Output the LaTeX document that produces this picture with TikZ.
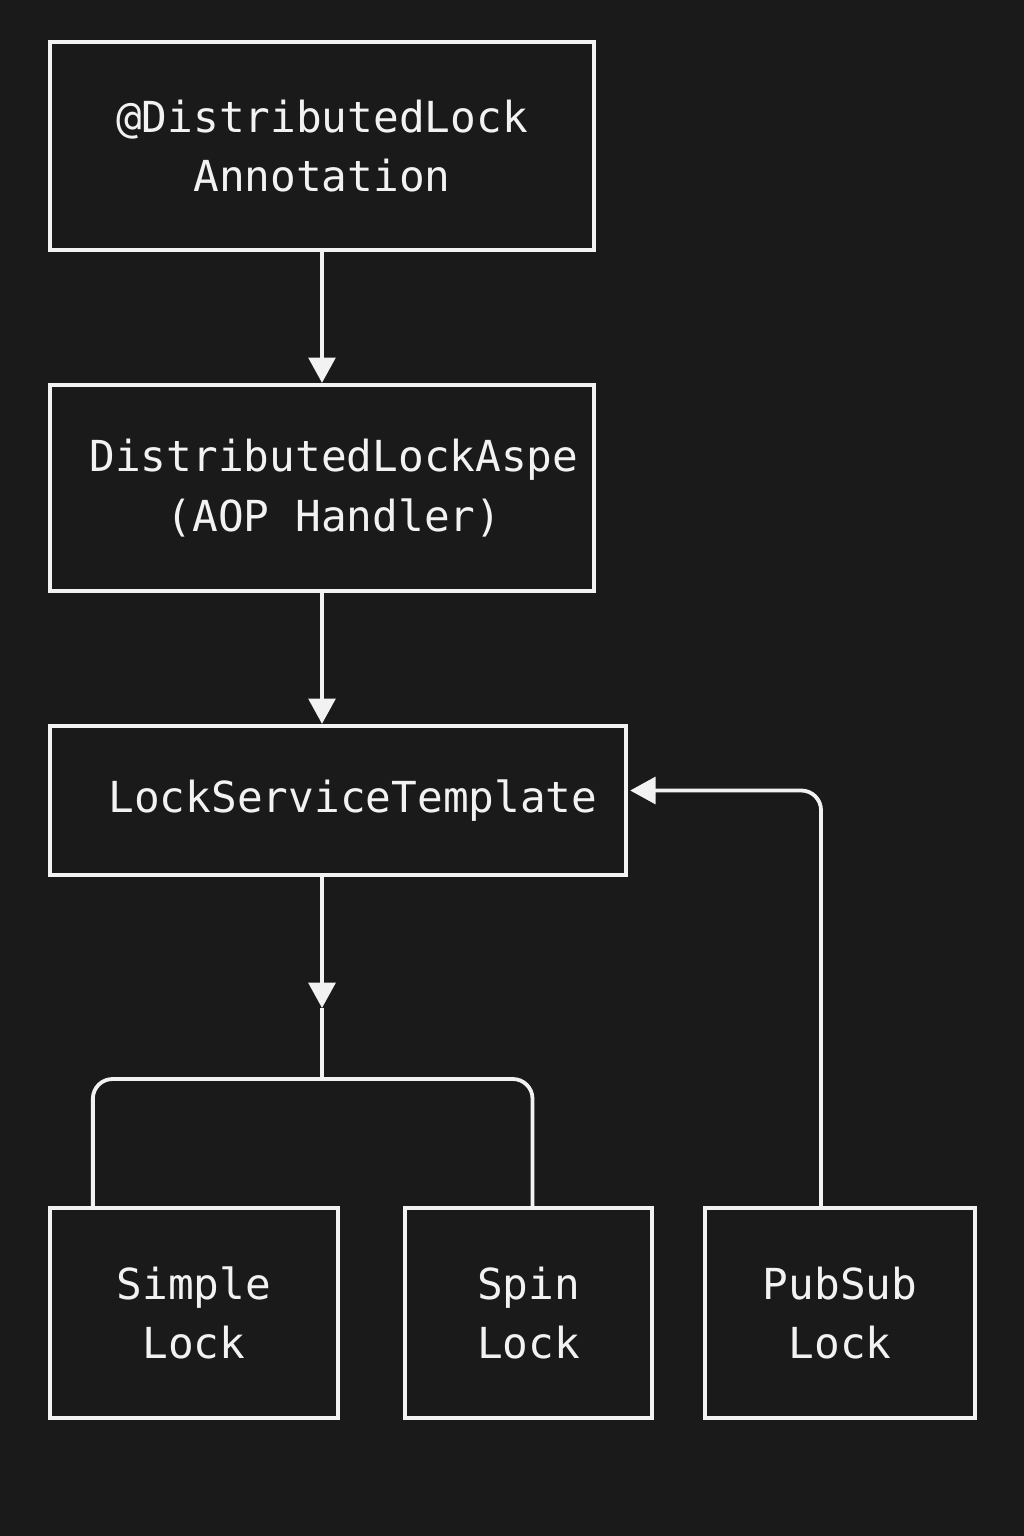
\documentclass[tikz,border=0pt]{standalone}
\usepackage{fontspec}
\setmonofont{DejaVu Sans Mono}
\usetikzlibrary{arrows.meta,calc}

\begin{document}
\begin{tikzpicture}[x=0.025cm,y=-0.025cm,>={Triangle[length=18pt,width=19pt]}]
\definecolor{bg}{RGB}{26,26,26}
\definecolor{ink}{RGB}{242,242,242}
\tikzset{
  box/.style={draw=ink,line width=3pt,fill=bg,text=ink,align=center,
    inner sep=0pt,font=\ttfamily\fontsize{30.4}{42.5}\selectfont},
  link/.style={draw=ink,line width=2.7pt,rounded corners=14pt}
}

% Page background, fixes the margins.
\fill[bg] (0,0) rectangle (1024,1536);
\useasboundingbox (0,0) rectangle (1024,1536);

% Boxes, top to bottom.
\node[box,minimum width=13.6cm,minimum height=5.2cm] (annot) at (322,146)
  {@DistributedLock\\Annotation};
\node[box,minimum width=13.6cm,minimum height=5.15cm] (aspect) at (322,488)
  {\hspace*{0.6cm}DistributedLockAspe\\\hspace*{0.6cm}(AOP Handler)};
\node[box,minimum width=14.4cm,minimum height=3.725cm] (tmpl) at (338,800.5)
  {\hspace*{0.75cm}LockServiceTemplate};
\node[box,minimum width=7.2cm,minimum height=5.25cm] (simple) at (194,1313)
  {Simple\\Lock};
\node[box,minimum width=6.175cm,minimum height=5.25cm] (spin) at (528.5,1313)
  {Spin\\Lock};
\node[box,minimum width=6.75cm,minimum height=5.25cm] (pubsub) at (840,1313)
  {PubSub\\Lock};

% Main chain.
\draw[link,->] (annot.south) -- (aspect.north);
\draw[link,->] (aspect.south) -- (aspect.south |- tmpl.north);

% Split towards the lock kinds.
\coordinate (mid) at (322,1008);
\coordinate (split) at (322,1079);
\draw[link,->] (tmpl.south -| mid) -- (mid);
\draw[link] (mid) -- (split);
\draw[link] ($(simple.north west)+(45,0)$) |- (split) -| ($(spin.north)+(4,0)$);

% PubSub feeds back into the template.
\draw[link,->] ($(pubsub.north)+(-19,0)$) |- ($(tmpl.east)+(2,-10)$);

\end{tikzpicture}
\end{document}
